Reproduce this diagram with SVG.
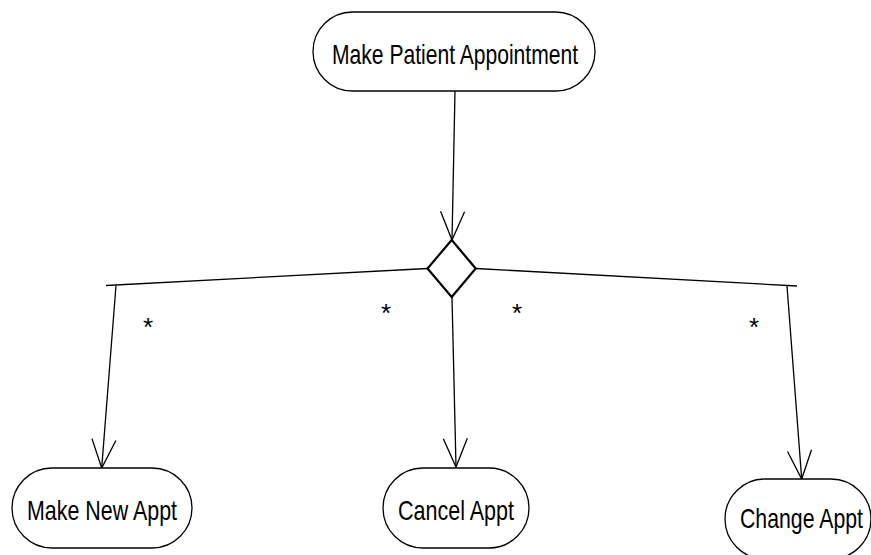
<svg xmlns="http://www.w3.org/2000/svg" width="871" height="555" viewBox="0 0 871 555">
<style>
.node{fill:#fff;stroke:#000;stroke-width:1.3}
.lbl{font-family:"Liberation Sans",Arial,sans-serif;font-size:28px;fill:#000}
.con{fill:none;stroke:#000;stroke-width:1.3}
.star{font-family:"Liberation Sans",Arial,sans-serif;font-size:26px;fill:#000;text-anchor:middle}
.dia{fill:#fff;stroke:#000;stroke-width:2.2;stroke-linejoin:miter}
</style>
<defs>
<marker id="open" markerUnits="userSpaceOnUse" markerWidth="40" markerHeight="40" viewBox="-35 -20 40 40" refX="0" refY="0" orient="auto" overflow="visible">
<path d="M-28.5,-12 L0,0 L-28.5,12" fill="none" stroke="#000" stroke-width="1.3"/>
</marker>
</defs>
<rect width="871" height="555" fill="#fff"/>
<g id="connectors">
<line class="con" x1="455" y1="91" x2="452" y2="240" marker-end="url(#open)"/>
<line class="con" x1="427.5" y1="268.5" x2="106" y2="285.5"/>
<line class="con" x1="116" y1="285.5" x2="101.7" y2="468" marker-end="url(#open)"/>
<line class="con" x1="452" y1="297" x2="456" y2="467" marker-end="url(#open)"/>
<line class="con" x1="476" y1="268.5" x2="797" y2="286"/>
<line class="con" x1="787" y1="286" x2="801.7" y2="479" marker-end="url(#open)"/>
<text class="star" x="148" y="336">*</text>
<text class="star" x="386" y="322">*</text>
<text class="star" x="517" y="322">*</text>
<text class="star" x="754" y="336">*</text>
</g>
<g id="decision">
<polygon class="dia" points="451.7,240 475.7,268.5 451.7,297 427.5,268.5"/>
</g>
<g id="make-patient-appointment">
<rect class="node" x="313" y="12" width="282" height="79" rx="39.5" ry="39.5"/>
<text class="lbl" x="332" y="64" textLength="246" lengthAdjust="spacingAndGlyphs">Make Patient Appointment</text>
</g>
<g id="make-new-appt">
<rect class="node" x="12" y="468" width="180" height="80" rx="40" ry="40"/>
<text class="lbl" x="27" y="520" textLength="150" lengthAdjust="spacingAndGlyphs">Make New Appt</text>
</g>
<g id="cancel-appt">
<rect class="node" x="383" y="468" width="146" height="80" rx="40" ry="40"/>
<text class="lbl" x="398" y="520" textLength="116" lengthAdjust="spacingAndGlyphs">Cancel Appt</text>
</g>
<g id="change-appt">
<rect class="node" x="725" y="479" width="146" height="80" rx="40" ry="40"/>
<text class="lbl" x="740" y="527.5" textLength="123" lengthAdjust="spacingAndGlyphs">Change Appt</text>
</g>
</svg>
